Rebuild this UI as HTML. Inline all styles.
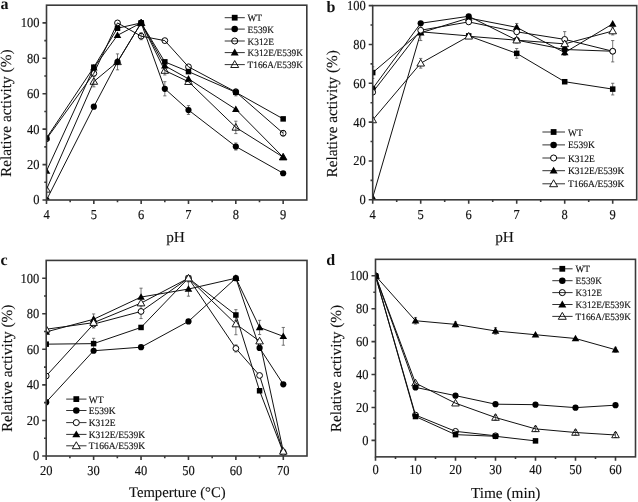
<!DOCTYPE html><html><head><meta charset="utf-8"><style>
html,body{margin:0;padding:0;background:#fff;width:638px;height:502px;overflow:hidden}
svg{display:block;filter:blur(0.25px)}
text{font-family:"Liberation Serif", serif;fill:#111;text-rendering:geometricPrecision}
.tk{font-size:12.5px;stroke:#111;stroke-width:0.15px}.tl{font-size:15.3px;stroke:#111;stroke-width:0.12px}.lg{font-size:9.5px;stroke:#111;stroke-width:0.15px}.pl{font-size:16px;font-weight:bold}
</style></head><body>
<svg width="638" height="502" viewBox="0 0 638 502">
<defs>
<clipPath id="clipa"><rect x="46.50" y="5.19" width="260.31" height="194.81"/></clipPath>
<clipPath id="clipb"><rect x="372.70" y="5.60" width="264.00" height="194.20"/></clipPath>
<clipPath id="clipc"><rect x="46.20" y="260.42" width="260.81" height="195.58"/></clipPath>
<clipPath id="clipd"><rect x="375.50" y="259.34" width="260.00" height="197.52"/></clipPath>
</defs>
<g><g clip-path="url(#clipa)"><path d="M117.50 53.89V69.83M115.90 53.89h3.2M115.90 69.83h3.2" stroke="#555" stroke-width="0.8" fill="none"/><path d="M164.82 81.70V95.87M163.22 81.70h3.2M163.22 95.87h3.2" stroke="#555" stroke-width="0.8" fill="none"/><path d="M188.49 105.61V114.46M186.89 105.61h3.2M186.89 114.46h3.2" stroke="#555" stroke-width="0.8" fill="none"/><path d="M235.82 142.97V150.06M234.22 142.97h3.2M234.22 150.06h3.2" stroke="#555" stroke-width="0.8" fill="none"/><path d="M235.82 121.19V133.59M234.22 121.19h3.2M234.22 133.59h3.2" stroke="#555" stroke-width="0.8" fill="none"/><path d="M235.82 88.78V95.87M234.22 88.78h3.2M234.22 95.87h3.2" stroke="#555" stroke-width="0.8" fill="none"/><path d="M283.15 130.58V135.89M281.55 130.58h3.2M281.55 135.89h3.2" stroke="#555" stroke-width="0.8" fill="none"/><path d="M93.83 76.21V86.83M92.23 76.21h3.2M92.23 86.83h3.2" stroke="#555" stroke-width="0.8" fill="none"/><path d="M141.16 32.64V39.72M139.56 32.64h3.2M139.56 39.72h3.2" stroke="#555" stroke-width="0.8" fill="none"/><path d="M164.82 66.11V74.97M163.22 66.11h3.2M163.22 74.97h3.2" stroke="#555" stroke-width="0.8" fill="none"/><path d="M46.50 138.01 L93.83 67.18 L117.50 28.21 L141.16 22.90 L164.82 61.86 L188.49 71.60 L235.82 92.32 L283.15 118.89" stroke="#111" stroke-width="1.0" fill="none" stroke-linejoin="round"/><path d="M46.50 200.00 L93.83 106.67 L117.50 61.86 L141.16 22.90 L164.82 88.78 L188.49 110.03 L235.82 146.52 L283.15 173.26" stroke="#111" stroke-width="1.0" fill="none" stroke-linejoin="round"/><path d="M46.50 138.90 L93.83 73.37 L117.50 22.90 L141.16 36.18 L164.82 40.61 L188.49 66.82 L235.82 91.97 L283.15 133.23" stroke="#111" stroke-width="1.0" fill="none" stroke-linejoin="round"/><path d="M46.50 170.96 L93.83 67.71 L117.50 35.30 L141.16 22.90 L164.82 65.76 L188.49 78.86 L235.82 109.32 L283.15 157.14" stroke="#111" stroke-width="1.0" fill="none" stroke-linejoin="round"/><path d="M46.50 189.37 L93.83 81.52 L117.50 61.86 L141.16 22.90 L164.82 70.54 L188.49 81.70 L235.82 127.39 L283.15 157.14" stroke="#111" stroke-width="1.0" fill="none" stroke-linejoin="round"/><circle cx="46.50" cy="138.90" r="2.90" fill="none" stroke="#000" stroke-width="1"/><circle cx="93.83" cy="73.37" r="2.90" fill="none" stroke="#000" stroke-width="1"/><circle cx="117.50" cy="22.90" r="2.90" fill="none" stroke="#000" stroke-width="1"/><circle cx="141.16" cy="36.18" r="2.90" fill="none" stroke="#000" stroke-width="1"/><circle cx="164.82" cy="40.61" r="2.90" fill="none" stroke="#000" stroke-width="1"/><circle cx="188.49" cy="66.82" r="2.90" fill="none" stroke="#000" stroke-width="1"/><circle cx="235.82" cy="91.97" r="2.90" fill="none" stroke="#000" stroke-width="1"/><circle cx="283.15" cy="133.23" r="2.90" fill="none" stroke="#000" stroke-width="1"/><polygon points="46.50,185.55 50.30,192.15 42.70,192.15" fill="none" stroke="#000" stroke-width="0.9" stroke-linejoin="miter"/><polygon points="93.83,77.69 97.63,84.29 90.03,84.29" fill="none" stroke="#000" stroke-width="0.9" stroke-linejoin="miter"/><polygon points="117.50,58.03 121.30,64.63 113.70,64.63" fill="none" stroke="#000" stroke-width="0.9" stroke-linejoin="miter"/><polygon points="141.16,19.07 144.96,25.67 137.36,25.67" fill="none" stroke="#000" stroke-width="0.9" stroke-linejoin="miter"/><polygon points="164.82,66.71 168.62,73.31 161.02,73.31" fill="none" stroke="#000" stroke-width="0.9" stroke-linejoin="miter"/><polygon points="188.49,77.87 192.29,84.47 184.69,84.47" fill="none" stroke="#000" stroke-width="0.9" stroke-linejoin="miter"/><polygon points="235.82,123.56 239.62,130.16 232.02,130.16" fill="none" stroke="#000" stroke-width="0.9" stroke-linejoin="miter"/><polygon points="283.15,153.31 286.95,159.91 279.35,159.91" fill="none" stroke="#000" stroke-width="0.9" stroke-linejoin="miter"/><circle cx="46.50" cy="200.00" r="3.10" fill="#000"/><circle cx="93.83" cy="106.67" r="3.10" fill="#000"/><circle cx="117.50" cy="61.86" r="3.10" fill="#000"/><circle cx="141.16" cy="22.90" r="3.10" fill="#000"/><circle cx="164.82" cy="88.78" r="3.10" fill="#000"/><circle cx="188.49" cy="110.03" r="3.10" fill="#000"/><circle cx="235.82" cy="146.52" r="3.10" fill="#000"/><circle cx="283.15" cy="173.26" r="3.10" fill="#000"/><polygon points="46.50,167.13 50.30,173.73 42.70,173.73" fill="#000"/><polygon points="93.83,63.88 97.63,70.48 90.03,70.48" fill="#000"/><polygon points="117.50,31.47 121.30,38.07 113.70,38.07" fill="#000"/><polygon points="141.16,19.07 144.96,25.67 137.36,25.67" fill="#000"/><polygon points="164.82,61.93 168.62,68.53 161.02,68.53" fill="#000"/><polygon points="188.49,75.04 192.29,81.64 184.69,81.64" fill="#000"/><polygon points="235.82,105.50 239.62,112.10 232.02,112.10" fill="#000"/><polygon points="283.15,153.31 286.95,159.91 279.35,159.91" fill="#000"/><rect x="43.75" y="135.26" width="5.50" height="5.50" fill="#000"/><rect x="91.08" y="64.43" width="5.50" height="5.50" fill="#000"/><rect x="114.75" y="25.46" width="5.50" height="5.50" fill="#000"/><rect x="138.41" y="20.15" width="5.50" height="5.50" fill="#000"/><rect x="162.07" y="59.11" width="5.50" height="5.50" fill="#000"/><rect x="185.74" y="68.85" width="5.50" height="5.50" fill="#000"/><rect x="233.07" y="89.57" width="5.50" height="5.50" fill="#000"/><rect x="280.40" y="116.14" width="5.50" height="5.50" fill="#000"/></g><rect x="46.50" y="5.19" width="260.31" height="194.81" fill="none" stroke="#3a3a3a" stroke-width="1.6"/><path d="M46.50 200.00v4M93.83 200.00v4M141.16 200.00v4M188.49 200.00v4M235.82 200.00v4M283.15 200.00v4M70.16 200.00v2.2M117.50 200.00v2.2M164.82 200.00v2.2M212.16 200.00v2.2M259.49 200.00v2.2M46.50 200.00h-4M46.50 164.58h-4M46.50 129.16h-4M46.50 93.74h-4M46.50 58.32h-4M46.50 22.90h-4M46.50 182.29h-2.2M46.50 146.87h-2.2M46.50 111.45h-2.2M46.50 76.03h-2.2M46.50 40.61h-2.2" stroke="#3a3a3a" stroke-width="1.6" fill="none"/><text class="tk" transform="translate(46.50,219.30) scale(1,1.09)" text-anchor="middle">4</text><text class="tk" transform="translate(93.83,219.30) scale(1,1.09)" text-anchor="middle">5</text><text class="tk" transform="translate(141.16,219.30) scale(1,1.09)" text-anchor="middle">6</text><text class="tk" transform="translate(188.49,219.30) scale(1,1.09)" text-anchor="middle">7</text><text class="tk" transform="translate(235.82,219.30) scale(1,1.09)" text-anchor="middle">8</text><text class="tk" transform="translate(283.15,219.30) scale(1,1.09)" text-anchor="middle">9</text><text class="tk" transform="translate(39.50,204.40) scale(1,1.09)" text-anchor="end">0</text><text class="tk" transform="translate(39.50,168.98) scale(1,1.09)" text-anchor="end">20</text><text class="tk" transform="translate(39.50,133.56) scale(1,1.09)" text-anchor="end">40</text><text class="tk" transform="translate(39.50,98.14) scale(1,1.09)" text-anchor="end">60</text><text class="tk" transform="translate(39.50,62.72) scale(1,1.09)" text-anchor="end">80</text><text class="tk" transform="translate(39.50,27.30) scale(1,1.09)" text-anchor="end">100</text><path d="M224.70 17.70H244.80" stroke="#333" stroke-width="1"/><rect x="231.81" y="14.81" width="5.78" height="5.78" fill="#000"/><text class="lg" style="font-size:9.35px" transform="translate(247.50,21.20) scale(1,1.04)">WT</text><path d="M224.70 29.10H244.80" stroke="#333" stroke-width="1"/><circle cx="234.70" cy="29.10" r="3.26" fill="#000"/><text class="lg" style="font-size:9.35px" transform="translate(247.50,32.60) scale(1,1.04)">E539K</text><path d="M224.70 41.00H244.80" stroke="#333" stroke-width="1"/><circle cx="234.70" cy="41.00" r="3.04" fill="none" stroke="#000" stroke-width="1"/><text class="lg" style="font-size:9.35px" transform="translate(247.50,44.50) scale(1,1.04)">K312E</text><path d="M224.70 52.60H244.80" stroke="#333" stroke-width="1"/><polygon points="234.70,48.58 238.69,55.51 230.71,55.51" fill="#000"/><text class="lg" style="font-size:9.35px" transform="translate(247.50,56.10) scale(1,1.04)">K312E/E539K</text><path d="M224.70 64.60H244.80" stroke="#333" stroke-width="1"/><polygon points="234.70,60.58 238.69,67.51 230.71,67.51" fill="none" stroke="#000" stroke-width="0.9" stroke-linejoin="miter"/><text class="lg" style="font-size:9.35px" transform="translate(247.50,68.10) scale(1,1.04)">T166A/E539K</text><text class="tl" x="175.50" y="241.80" text-anchor="middle">pH</text><text class="tl" transform="translate(11.40,113.20) rotate(-90)" x="0" y="0" text-anchor="middle">Relative activity (%)</text><text class="pl" x="0.40" y="9.00">a</text></g>
<g><g clip-path="url(#clipb)"><path d="M612.70 40.56V61.92M611.10 40.56h3.2M611.10 61.92h3.2" stroke="#555" stroke-width="0.8" fill="none"/><path d="M564.70 31.62V47.16M563.10 31.62h3.2M563.10 47.16h3.2" stroke="#555" stroke-width="0.8" fill="none"/><path d="M516.70 25.99V37.64M515.10 25.99h3.2M515.10 37.64h3.2" stroke="#555" stroke-width="0.8" fill="none"/><path d="M516.70 48.52V58.23M515.10 48.52h3.2M515.10 58.23h3.2" stroke="#555" stroke-width="0.8" fill="none"/><path d="M612.70 27.16V34.92M611.10 27.16h3.2M611.10 34.92h3.2" stroke="#555" stroke-width="0.8" fill="none"/><path d="M420.70 58.42V68.13M419.10 58.42h3.2M419.10 68.13h3.2" stroke="#555" stroke-width="0.8" fill="none"/><path d="M420.70 25.02V40.56M419.10 25.02h3.2M419.10 40.56h3.2" stroke="#555" stroke-width="0.8" fill="none"/><path d="M372.70 66.77V78.43M371.10 66.77h3.2M371.10 78.43h3.2" stroke="#555" stroke-width="0.8" fill="none"/><path d="M612.70 83.28V94.93M611.10 83.28h3.2M611.10 94.93h3.2" stroke="#555" stroke-width="0.8" fill="none"/><path d="M564.70 43.66V55.32M563.10 43.66h3.2M563.10 55.32h3.2" stroke="#555" stroke-width="0.8" fill="none"/><path d="M564.70 39.97V47.74M563.10 39.97h3.2M563.10 47.74h3.2" stroke="#555" stroke-width="0.8" fill="none"/><path d="M516.70 23.47V31.23M515.10 23.47h3.2M515.10 31.23h3.2" stroke="#555" stroke-width="0.8" fill="none"/><path d="M372.70 72.60 L420.70 31.82 L468.70 35.90 L516.70 53.37 L564.70 81.73 L612.70 89.11" stroke="#111" stroke-width="1.0" fill="none" stroke-linejoin="round"/><path d="M372.70 88.52 L420.70 23.27 L468.70 16.28 L516.70 40.17 L564.70 49.49 L612.70 51.24" stroke="#111" stroke-width="1.0" fill="none" stroke-linejoin="round"/><path d="M372.70 92.21 L420.70 30.26 L468.70 21.91 L516.70 31.82 L564.70 39.39 L612.70 51.24" stroke="#111" stroke-width="1.0" fill="none" stroke-linejoin="round"/><path d="M372.70 197.47 L420.70 32.79 L468.70 18.03 L516.70 27.35 L564.70 52.60 L612.70 23.85" stroke="#111" stroke-width="1.0" fill="none" stroke-linejoin="round"/><path d="M372.70 119.98 L420.70 63.28 L468.70 36.28 L516.70 40.17 L564.70 43.86 L612.70 31.04" stroke="#111" stroke-width="1.0" fill="none" stroke-linejoin="round"/><circle cx="372.70" cy="88.52" r="3.10" fill="#000"/><circle cx="420.70" cy="23.27" r="3.10" fill="#000"/><circle cx="468.70" cy="16.28" r="3.10" fill="#000"/><circle cx="516.70" cy="40.17" r="3.10" fill="#000"/><circle cx="564.70" cy="49.49" r="3.10" fill="#000"/><circle cx="612.70" cy="51.24" r="3.10" fill="#000"/><polygon points="372.70,193.64 376.50,200.24 368.90,200.24" fill="#000"/><polygon points="420.70,28.96 424.50,35.56 416.90,35.56" fill="#000"/><polygon points="468.70,14.20 472.50,20.80 464.90,20.80" fill="#000"/><polygon points="516.70,23.52 520.50,30.12 512.90,30.12" fill="#000"/><polygon points="564.70,48.77 568.50,55.37 560.90,55.37" fill="#000"/><polygon points="612.70,20.03 616.50,26.63 608.90,26.63" fill="#000"/><rect x="369.95" y="69.85" width="5.50" height="5.50" fill="#000"/><rect x="417.95" y="29.07" width="5.50" height="5.50" fill="#000"/><rect x="465.95" y="33.15" width="5.50" height="5.50" fill="#000"/><rect x="513.95" y="50.62" width="5.50" height="5.50" fill="#000"/><rect x="561.95" y="78.98" width="5.50" height="5.50" fill="#000"/><rect x="609.95" y="86.36" width="5.50" height="5.50" fill="#000"/><circle cx="372.70" cy="92.21" r="2.90" fill="#fff" stroke="#000" stroke-width="1"/><circle cx="420.70" cy="30.26" r="2.90" fill="#fff" stroke="#000" stroke-width="1"/><circle cx="468.70" cy="21.91" r="2.90" fill="#fff" stroke="#000" stroke-width="1"/><circle cx="516.70" cy="31.82" r="2.90" fill="#fff" stroke="#000" stroke-width="1"/><circle cx="564.70" cy="39.39" r="2.90" fill="#fff" stroke="#000" stroke-width="1"/><circle cx="612.70" cy="51.24" r="2.90" fill="#fff" stroke="#000" stroke-width="1"/><polygon points="372.70,116.16 376.50,122.76 368.90,122.76" fill="#fff" stroke="#000" stroke-width="0.9" stroke-linejoin="miter"/><polygon points="420.70,59.45 424.50,66.05 416.90,66.05" fill="#fff" stroke="#000" stroke-width="0.9" stroke-linejoin="miter"/><polygon points="468.70,32.46 472.50,39.06 464.90,39.06" fill="#fff" stroke="#000" stroke-width="0.9" stroke-linejoin="miter"/><polygon points="516.70,36.34 520.50,42.94 512.90,42.94" fill="#fff" stroke="#000" stroke-width="0.9" stroke-linejoin="miter"/><polygon points="564.70,40.03 568.50,46.63 560.90,46.63" fill="#fff" stroke="#000" stroke-width="0.9" stroke-linejoin="miter"/><polygon points="612.70,27.21 616.50,33.81 608.90,33.81" fill="#fff" stroke="#000" stroke-width="0.9" stroke-linejoin="miter"/></g><rect x="372.70" y="5.60" width="264.00" height="194.20" fill="none" stroke="#3a3a3a" stroke-width="1.6"/><path d="M372.70 199.80v4M420.70 199.80v4M468.70 199.80v4M516.70 199.80v4M564.70 199.80v4M612.70 199.80v4M396.70 199.80v2.2M444.70 199.80v2.2M492.70 199.80v2.2M540.70 199.80v2.2M588.70 199.80v2.2M372.70 199.80h-4M372.70 160.96h-4M372.70 122.12h-4M372.70 83.28h-4M372.70 44.44h-4M372.70 5.60h-4M372.70 180.38h-2.2M372.70 141.54h-2.2M372.70 102.70h-2.2M372.70 63.86h-2.2M372.70 25.02h-2.2" stroke="#3a3a3a" stroke-width="1.6" fill="none"/><text class="tk" transform="translate(372.70,219.10) scale(1,1.09)" text-anchor="middle">4</text><text class="tk" transform="translate(420.70,219.10) scale(1,1.09)" text-anchor="middle">5</text><text class="tk" transform="translate(468.70,219.10) scale(1,1.09)" text-anchor="middle">6</text><text class="tk" transform="translate(516.70,219.10) scale(1,1.09)" text-anchor="middle">7</text><text class="tk" transform="translate(564.70,219.10) scale(1,1.09)" text-anchor="middle">8</text><text class="tk" transform="translate(612.70,219.10) scale(1,1.09)" text-anchor="middle">9</text><text class="tk" transform="translate(365.70,204.20) scale(1,1.09)" text-anchor="end">0</text><text class="tk" transform="translate(365.70,165.36) scale(1,1.09)" text-anchor="end">20</text><text class="tk" transform="translate(365.70,126.52) scale(1,1.09)" text-anchor="end">40</text><text class="tk" transform="translate(365.70,87.68) scale(1,1.09)" text-anchor="end">60</text><text class="tk" transform="translate(365.70,48.84) scale(1,1.09)" text-anchor="end">80</text><text class="tk" transform="translate(365.70,10.00) scale(1,1.09)" text-anchor="end">100</text><path d="M542.40 132.00H565.00" stroke="#333" stroke-width="1"/><rect x="550.71" y="129.11" width="5.78" height="5.78" fill="#000"/><text class="lg" style="font-size:9.5px" transform="translate(568.00,135.50) scale(1,1.04)">WT</text><path d="M542.40 144.90H565.00" stroke="#333" stroke-width="1"/><circle cx="553.60" cy="144.90" r="3.26" fill="#000"/><text class="lg" style="font-size:9.5px" transform="translate(568.00,148.40) scale(1,1.04)">E539K</text><path d="M542.40 158.00H565.00" stroke="#333" stroke-width="1"/><circle cx="553.60" cy="158.00" r="3.04" fill="#fff" stroke="#000" stroke-width="1"/><text class="lg" style="font-size:9.5px" transform="translate(568.00,161.50) scale(1,1.04)">K312E</text><path d="M542.40 170.70H565.00" stroke="#333" stroke-width="1"/><polygon points="553.60,166.68 557.59,173.61 549.61,173.61" fill="#000"/><text class="lg" style="font-size:9.5px" transform="translate(568.00,174.20) scale(1,1.04)">K312E/E539K</text><path d="M542.40 183.80H565.00" stroke="#333" stroke-width="1"/><polygon points="553.60,179.78 557.59,186.71 549.61,186.71" fill="#fff" stroke="#000" stroke-width="0.9" stroke-linejoin="miter"/><text class="lg" style="font-size:9.5px" transform="translate(568.00,187.30) scale(1,1.04)">T166A/E539K</text><text class="tl" x="504.50" y="242.30" text-anchor="middle">pH</text><text class="tl" transform="translate(337.20,113.80) rotate(-90)" x="0" y="0" text-anchor="middle">Relative activity (%)</text><text class="pl" x="326.60" y="12.40">b</text></g>
<g><g clip-path="url(#clipc)"><path d="M141.04 288.16V305.94M139.44 288.16h3.2M139.44 305.94h3.2" stroke="#555" stroke-width="0.8" fill="none"/><path d="M141.04 304.34V318.56M139.44 304.34h3.2M139.44 318.56h3.2" stroke="#555" stroke-width="0.8" fill="none"/><path d="M93.62 338.30V348.96M92.02 338.30h3.2M92.02 348.96h3.2" stroke="#555" stroke-width="0.8" fill="none"/><path d="M93.62 313.94V324.61M92.02 313.94h3.2M92.02 324.61h3.2" stroke="#555" stroke-width="0.8" fill="none"/><path d="M93.62 317.32V327.98M92.02 317.32h3.2M92.02 327.98h3.2" stroke="#555" stroke-width="0.8" fill="none"/><path d="M235.88 309.67V320.34M234.28 309.67h3.2M234.28 320.34h3.2" stroke="#555" stroke-width="0.8" fill="none"/><path d="M235.88 313.40V334.74M234.28 313.40h3.2M234.28 334.74h3.2" stroke="#555" stroke-width="0.8" fill="none"/><path d="M259.59 320.34V334.56M257.99 320.34h3.2M257.99 334.56h3.2" stroke="#555" stroke-width="0.8" fill="none"/><path d="M283.30 327.45V345.23M281.70 327.45h3.2M281.70 345.23h3.2" stroke="#555" stroke-width="0.8" fill="none"/><path d="M235.88 344.88V351.99M234.28 344.88h3.2M234.28 351.99h3.2" stroke="#555" stroke-width="0.8" fill="none"/><path d="M188.46 281.93V296.16M186.86 281.93h3.2M186.86 296.16h3.2" stroke="#555" stroke-width="0.8" fill="none"/><path d="M46.20 344.16 L93.62 343.63 L141.04 327.45 L188.46 278.20 L235.88 315.00 L259.59 390.75 L283.30 452.44" stroke="#111" stroke-width="1.0" fill="none" stroke-linejoin="round"/><path d="M46.20 402.13 L93.62 350.74 L141.04 347.19 L188.46 321.41 L235.88 278.20 L259.59 347.90 L283.30 384.35" stroke="#111" stroke-width="1.0" fill="none" stroke-linejoin="round"/><path d="M46.20 375.99 L93.62 324.07 L141.04 311.45 L188.46 278.20 L235.88 348.43 L259.59 375.46 L283.30 452.44" stroke="#111" stroke-width="1.0" fill="none" stroke-linejoin="round"/><path d="M46.20 331.90 L93.62 319.27 L141.04 297.05 L188.46 289.05 L235.88 278.20 L259.59 327.45 L283.30 336.34" stroke="#111" stroke-width="1.0" fill="none" stroke-linejoin="round"/><path d="M46.20 329.23 L93.62 322.65 L141.04 303.09 L188.46 278.20 L235.88 324.07 L259.59 341.14 L283.30 451.38" stroke="#111" stroke-width="1.0" fill="none" stroke-linejoin="round"/><circle cx="46.20" cy="402.13" r="3.10" fill="#000"/><circle cx="93.62" cy="350.74" r="3.10" fill="#000"/><circle cx="141.04" cy="347.19" r="3.10" fill="#000"/><circle cx="188.46" cy="321.41" r="3.10" fill="#000"/><circle cx="235.88" cy="278.20" r="3.10" fill="#000"/><circle cx="259.59" cy="347.90" r="3.10" fill="#000"/><circle cx="283.30" cy="384.35" r="3.10" fill="#000"/><polygon points="46.20,328.07 50.00,334.67 42.40,334.67" fill="#000"/><polygon points="93.62,315.44 97.42,322.04 89.82,322.04" fill="#000"/><polygon points="141.04,293.22 144.84,299.82 137.24,299.82" fill="#000"/><polygon points="188.46,285.22 192.26,291.82 184.66,291.82" fill="#000"/><polygon points="235.88,274.37 239.68,280.97 232.08,280.97" fill="#000"/><polygon points="259.59,323.62 263.39,330.22 255.79,330.22" fill="#000"/><polygon points="283.30,332.51 287.10,339.11 279.50,339.11" fill="#000"/><rect x="43.45" y="341.41" width="5.50" height="5.50" fill="#000"/><rect x="90.87" y="340.88" width="5.50" height="5.50" fill="#000"/><rect x="138.29" y="324.70" width="5.50" height="5.50" fill="#000"/><rect x="185.71" y="275.45" width="5.50" height="5.50" fill="#000"/><rect x="233.13" y="312.25" width="5.50" height="5.50" fill="#000"/><rect x="256.84" y="388.00" width="5.50" height="5.50" fill="#000"/><rect x="280.55" y="449.69" width="5.50" height="5.50" fill="#000"/><circle cx="46.20" cy="375.99" r="2.90" fill="#fff" stroke="#000" stroke-width="1"/><circle cx="93.62" cy="324.07" r="2.90" fill="#fff" stroke="#000" stroke-width="1"/><circle cx="141.04" cy="311.45" r="2.90" fill="#fff" stroke="#000" stroke-width="1"/><circle cx="188.46" cy="278.20" r="2.90" fill="#fff" stroke="#000" stroke-width="1"/><circle cx="235.88" cy="348.43" r="2.90" fill="#fff" stroke="#000" stroke-width="1"/><circle cx="259.59" cy="375.46" r="2.90" fill="#fff" stroke="#000" stroke-width="1"/><circle cx="283.30" cy="452.44" r="2.90" fill="#fff" stroke="#000" stroke-width="1"/><polygon points="46.20,325.40 50.00,332.00 42.40,332.00" fill="#fff" stroke="#000" stroke-width="0.9" stroke-linejoin="miter"/><polygon points="93.62,318.82 97.42,325.42 89.82,325.42" fill="#fff" stroke="#000" stroke-width="0.9" stroke-linejoin="miter"/><polygon points="141.04,299.26 144.84,305.86 137.24,305.86" fill="#fff" stroke="#000" stroke-width="0.9" stroke-linejoin="miter"/><polygon points="188.46,274.37 192.26,280.97 184.66,280.97" fill="#fff" stroke="#000" stroke-width="0.9" stroke-linejoin="miter"/><polygon points="235.88,320.24 239.68,326.84 232.08,326.84" fill="#fff" stroke="#000" stroke-width="0.9" stroke-linejoin="miter"/><polygon points="259.59,337.31 263.39,343.91 255.79,343.91" fill="#fff" stroke="#000" stroke-width="0.9" stroke-linejoin="miter"/><polygon points="283.30,447.55 287.10,454.15 279.50,454.15" fill="#fff" stroke="#000" stroke-width="0.9" stroke-linejoin="miter"/></g><rect x="46.20" y="260.42" width="260.81" height="195.58" fill="none" stroke="#3a3a3a" stroke-width="1.6"/><path d="M46.20 456.00v4M93.62 456.00v4M141.04 456.00v4M188.46 456.00v4M235.88 456.00v4M283.30 456.00v4M69.91 456.00v2.2M117.33 456.00v2.2M164.75 456.00v2.2M212.17 456.00v2.2M259.59 456.00v2.2M46.20 456.00h-4M46.20 420.44h-4M46.20 384.88h-4M46.20 349.32h-4M46.20 313.76h-4M46.20 278.20h-4M46.20 438.22h-2.2M46.20 402.66h-2.2M46.20 367.10h-2.2M46.20 331.54h-2.2M46.20 295.98h-2.2" stroke="#3a3a3a" stroke-width="1.6" fill="none"/><text class="tk" transform="translate(46.20,474.60) scale(1,1.09)" text-anchor="middle">20</text><text class="tk" transform="translate(93.62,474.60) scale(1,1.09)" text-anchor="middle">30</text><text class="tk" transform="translate(141.04,474.60) scale(1,1.09)" text-anchor="middle">40</text><text class="tk" transform="translate(188.46,474.60) scale(1,1.09)" text-anchor="middle">50</text><text class="tk" transform="translate(235.88,474.60) scale(1,1.09)" text-anchor="middle">60</text><text class="tk" transform="translate(283.30,474.60) scale(1,1.09)" text-anchor="middle">70</text><text class="tk" transform="translate(39.20,460.40) scale(1,1.09)" text-anchor="end">0</text><text class="tk" transform="translate(39.20,424.84) scale(1,1.09)" text-anchor="end">20</text><text class="tk" transform="translate(39.20,389.28) scale(1,1.09)" text-anchor="end">40</text><text class="tk" transform="translate(39.20,353.72) scale(1,1.09)" text-anchor="end">60</text><text class="tk" transform="translate(39.20,318.16) scale(1,1.09)" text-anchor="end">80</text><text class="tk" transform="translate(39.20,282.60) scale(1,1.09)" text-anchor="end">100</text><path d="M66.20 399.10H86.50" stroke="#333" stroke-width="1"/><rect x="73.41" y="396.21" width="5.78" height="5.78" fill="#000"/><text class="lg" style="font-size:9.5px" transform="translate(88.70,402.60) scale(1,1.04)">WT</text><path d="M66.20 410.50H86.50" stroke="#333" stroke-width="1"/><circle cx="76.30" cy="410.50" r="3.26" fill="#000"/><text class="lg" style="font-size:9.5px" transform="translate(88.70,414.00) scale(1,1.04)">E539K</text><path d="M66.20 422.60H86.50" stroke="#333" stroke-width="1"/><circle cx="76.30" cy="422.60" r="3.04" fill="#fff" stroke="#000" stroke-width="1"/><text class="lg" style="font-size:9.5px" transform="translate(88.70,426.10) scale(1,1.04)">K312E</text><path d="M66.20 434.40H86.50" stroke="#333" stroke-width="1"/><polygon points="76.30,430.38 80.29,437.31 72.31,437.31" fill="#000"/><text class="lg" style="font-size:9.5px" transform="translate(88.70,437.90) scale(1,1.04)">K312E/E539K</text><path d="M66.20 445.80H86.50" stroke="#333" stroke-width="1"/><polygon points="76.30,441.78 80.29,448.71 72.31,448.71" fill="#fff" stroke="#000" stroke-width="0.9" stroke-linejoin="miter"/><text class="lg" style="font-size:9.5px" transform="translate(88.70,449.30) scale(1,1.04)">T166A/E539K</text><text class="tl" style="font-size:14.7px" x="177.30" y="496.70" text-anchor="middle">Temperture (°C)</text><text class="tl" transform="translate(11.80,368.40) rotate(-90)" x="0" y="0" text-anchor="middle">Relative activity (%)</text><text class="pl" x="0.40" y="264.80">c</text></g>
<g><g clip-path="url(#clipd)"><path d="M415.50 317.44V324.03M413.90 317.44h3.2M413.90 324.03h3.2" stroke="#555" stroke-width="0.8" fill="none"/><path d="M455.50 321.89V326.83M453.90 321.89h3.2M453.90 326.83h3.2" stroke="#555" stroke-width="0.8" fill="none"/><path d="M495.50 327.65V334.23M493.90 327.65h3.2M493.90 334.23h3.2" stroke="#555" stroke-width="0.8" fill="none"/><path d="M615.50 347.24V352.17M613.90 347.24h3.2M613.90 352.17h3.2" stroke="#555" stroke-width="0.8" fill="none"/><path d="M575.50 430.03V434.97M573.90 430.03h3.2M573.90 434.97h3.2" stroke="#555" stroke-width="0.8" fill="none"/><path d="M615.50 432.50V437.44M613.90 432.50h3.2M613.90 437.44h3.2" stroke="#555" stroke-width="0.8" fill="none"/><path d="M495.50 415.05V419.99M493.90 415.05h3.2M493.90 419.99h3.2" stroke="#555" stroke-width="0.8" fill="none"/><path d="M535.50 426.41V431.35M533.90 426.41h3.2M533.90 431.35h3.2" stroke="#555" stroke-width="0.8" fill="none"/><path d="M375.50 275.80 L415.50 416.53 L455.50 434.64 L495.50 436.28 L535.50 440.89" stroke="#111" stroke-width="1.0" fill="none" stroke-linejoin="round"/><path d="M375.50 275.80 L415.50 387.40 L455.50 395.63 L495.50 404.19 L535.50 404.68 L575.50 407.64 L615.50 405.18" stroke="#111" stroke-width="1.0" fill="none" stroke-linejoin="round"/><path d="M375.50 275.80 L415.50 415.05 L455.50 431.35 L495.50 435.79" stroke="#111" stroke-width="1.0" fill="none" stroke-linejoin="round"/><path d="M375.50 275.80 L415.50 320.74 L455.50 324.36 L495.50 330.94 L535.50 334.73 L575.50 338.51 L615.50 349.71" stroke="#111" stroke-width="1.0" fill="none" stroke-linejoin="round"/><path d="M375.50 275.80 L415.50 383.12 L455.50 403.20 L495.50 417.52 L535.50 428.88 L575.50 432.50 L615.50 434.97" stroke="#111" stroke-width="1.0" fill="none" stroke-linejoin="round"/><circle cx="375.50" cy="275.80" r="2.90" fill="none" stroke="#000" stroke-width="1"/><circle cx="415.50" cy="415.05" r="2.90" fill="none" stroke="#000" stroke-width="1"/><circle cx="455.50" cy="431.35" r="2.90" fill="none" stroke="#000" stroke-width="1"/><circle cx="495.50" cy="435.79" r="2.90" fill="none" stroke="#000" stroke-width="1"/><polygon points="375.50,271.97 379.30,278.57 371.70,278.57" fill="none" stroke="#000" stroke-width="0.9" stroke-linejoin="miter"/><polygon points="415.50,379.29 419.30,385.89 411.70,385.89" fill="none" stroke="#000" stroke-width="0.9" stroke-linejoin="miter"/><polygon points="455.50,399.37 459.30,405.97 451.70,405.97" fill="none" stroke="#000" stroke-width="0.9" stroke-linejoin="miter"/><polygon points="495.50,413.69 499.30,420.29 491.70,420.29" fill="none" stroke="#000" stroke-width="0.9" stroke-linejoin="miter"/><polygon points="535.50,425.05 539.30,431.65 531.70,431.65" fill="none" stroke="#000" stroke-width="0.9" stroke-linejoin="miter"/><polygon points="575.50,428.67 579.30,435.27 571.70,435.27" fill="none" stroke="#000" stroke-width="0.9" stroke-linejoin="miter"/><polygon points="615.50,431.14 619.30,437.74 611.70,437.74" fill="none" stroke="#000" stroke-width="0.9" stroke-linejoin="miter"/><circle cx="375.50" cy="275.80" r="3.10" fill="#000"/><circle cx="415.50" cy="387.40" r="3.10" fill="#000"/><circle cx="455.50" cy="395.63" r="3.10" fill="#000"/><circle cx="495.50" cy="404.19" r="3.10" fill="#000"/><circle cx="535.50" cy="404.68" r="3.10" fill="#000"/><circle cx="575.50" cy="407.64" r="3.10" fill="#000"/><circle cx="615.50" cy="405.18" r="3.10" fill="#000"/><polygon points="375.50,271.97 379.30,278.57 371.70,278.57" fill="#000"/><polygon points="415.50,316.91 419.30,323.51 411.70,323.51" fill="#000"/><polygon points="455.50,320.53 459.30,327.13 451.70,327.13" fill="#000"/><polygon points="495.50,327.11 499.30,333.71 491.70,333.71" fill="#000"/><polygon points="535.50,330.90 539.30,337.50 531.70,337.50" fill="#000"/><polygon points="575.50,334.68 579.30,341.28 571.70,341.28" fill="#000"/><polygon points="615.50,345.88 619.30,352.48 611.70,352.48" fill="#000"/><rect x="372.75" y="273.05" width="5.50" height="5.50" fill="#000"/><rect x="412.75" y="413.78" width="5.50" height="5.50" fill="#000"/><rect x="452.75" y="431.89" width="5.50" height="5.50" fill="#000"/><rect x="492.75" y="433.53" width="5.50" height="5.50" fill="#000"/><rect x="532.75" y="438.14" width="5.50" height="5.50" fill="#000"/></g><rect x="375.50" y="259.34" width="260.00" height="197.52" fill="none" stroke="#3a3a3a" stroke-width="1.6"/><path d="M375.50 456.86v4M415.50 456.86v4M455.50 456.86v4M495.50 456.86v4M535.50 456.86v4M575.50 456.86v4M615.50 456.86v4M395.50 456.86v2.2M435.50 456.86v2.2M475.50 456.86v2.2M515.50 456.86v2.2M555.50 456.86v2.2M595.50 456.86v2.2M375.50 440.40h-4M375.50 407.48h-4M375.50 374.56h-4M375.50 341.64h-4M375.50 308.72h-4M375.50 275.80h-4M375.50 423.94h-2.2M375.50 391.02h-2.2M375.50 358.10h-2.2M375.50 325.18h-2.2M375.50 292.26h-2.2" stroke="#3a3a3a" stroke-width="1.6" fill="none"/><text class="tk" transform="translate(375.50,474.16) scale(1,1.09)" text-anchor="middle">0</text><text class="tk" transform="translate(415.50,474.16) scale(1,1.09)" text-anchor="middle">10</text><text class="tk" transform="translate(455.50,474.16) scale(1,1.09)" text-anchor="middle">20</text><text class="tk" transform="translate(495.50,474.16) scale(1,1.09)" text-anchor="middle">30</text><text class="tk" transform="translate(535.50,474.16) scale(1,1.09)" text-anchor="middle">40</text><text class="tk" transform="translate(575.50,474.16) scale(1,1.09)" text-anchor="middle">50</text><text class="tk" transform="translate(615.50,474.16) scale(1,1.09)" text-anchor="middle">60</text><text class="tk" transform="translate(368.50,444.80) scale(1,1.09)" text-anchor="end">0</text><text class="tk" transform="translate(368.50,411.88) scale(1,1.09)" text-anchor="end">20</text><text class="tk" transform="translate(368.50,378.96) scale(1,1.09)" text-anchor="end">40</text><text class="tk" transform="translate(368.50,346.04) scale(1,1.09)" text-anchor="end">60</text><text class="tk" transform="translate(368.50,313.12) scale(1,1.09)" text-anchor="end">80</text><text class="tk" transform="translate(368.50,280.20) scale(1,1.09)" text-anchor="end">100</text><path d="M552.30 268.80H572.60" stroke="#333" stroke-width="1"/><rect x="559.41" y="265.91" width="5.78" height="5.78" fill="#000"/><text class="lg" style="font-size:9.3px" transform="translate(575.60,272.30) scale(1,1.04)">WT</text><path d="M552.30 280.70H572.60" stroke="#333" stroke-width="1"/><circle cx="562.30" cy="280.70" r="3.26" fill="#000"/><text class="lg" style="font-size:9.3px" transform="translate(575.60,284.20) scale(1,1.04)">E539K</text><path d="M552.30 292.60H572.60" stroke="#333" stroke-width="1"/><circle cx="562.30" cy="292.60" r="3.04" fill="none" stroke="#000" stroke-width="1"/><text class="lg" style="font-size:9.3px" transform="translate(575.60,296.10) scale(1,1.04)">K312E</text><path d="M552.30 304.50H572.60" stroke="#333" stroke-width="1"/><polygon points="562.30,300.48 566.29,307.41 558.31,307.41" fill="#000"/><text class="lg" style="font-size:9.3px" transform="translate(575.60,308.00) scale(1,1.04)">K312E/E539K</text><path d="M552.30 316.40H572.60" stroke="#333" stroke-width="1"/><polygon points="562.30,312.38 566.29,319.31 558.31,319.31" fill="none" stroke="#000" stroke-width="0.9" stroke-linejoin="miter"/><text class="lg" style="font-size:9.3px" transform="translate(575.60,319.90) scale(1,1.04)">T166A/E539K</text><text class="tl" x="505.70" y="497.50" text-anchor="middle">Time (min)</text><text class="tl" transform="translate(341.00,368.60) rotate(-90)" x="0" y="0" text-anchor="middle">Relative activity (%)</text><text class="pl" x="326.20" y="265.00">d</text></g>
</svg></body></html>
